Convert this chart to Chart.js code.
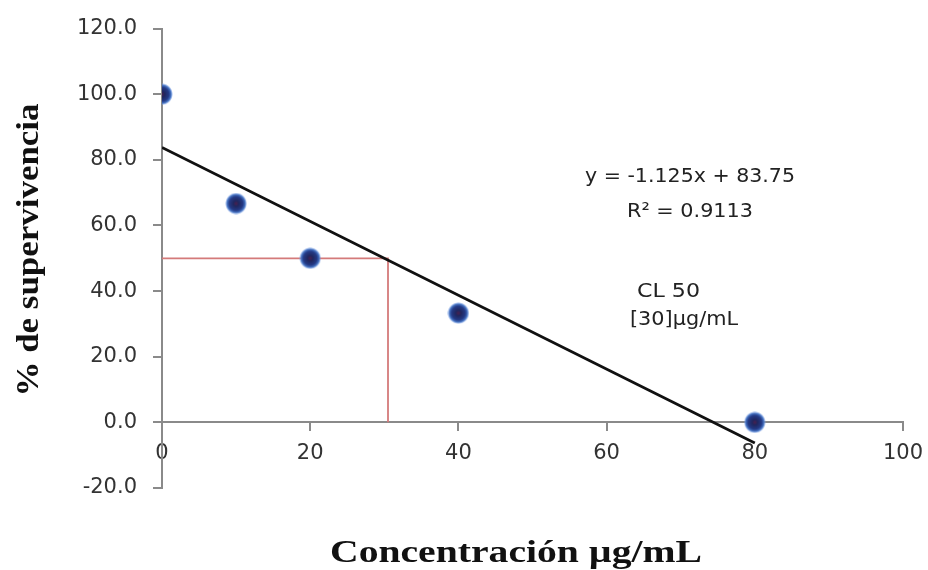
<!DOCTYPE html>
<html>
<head>
<meta charset="utf-8">
<script src="https://cdn.jsdelivr.net/npm/chart.js@4.4.1/dist/chart.umd.min.js"></script>
<style>
  body { margin: 0; background: #fff; }
  #wrap { width: 928px; height: 570px; }
</style>
</head>
<body>
<div id="wrap"><canvas id="myChart" width="928" height="570"></canvas></div>
<script>
// data
var conc = [0, 10, 20, 40, 80];
var surv = [100, 66.7, 50, 33.3, 0];
var trendX = [0, 80];
var trendY = [83.75, -6.25];
var clX = [0, 30.5, 30.5];
var clY = [50, 50, 0];
var xTicks = [0, 20, 40, 60, 80, 100];
var yTicks = [-20, 0, 20, 40, 60, 80, 100, 120];
var xTitle = 'Concentración µg/mL';
var yTitle = '% de supervivencia';
var eqText = 'y = -1.125x + 83.75';
var r2Text = 'R² = 0.9113';
var clText = ['CL 50', '[30]µg/mL'];

function pairs(xs, ys) {
    return xs.map(function(x, i) { return { x: x, y: ys[i] }; });
}

// round marker with dark centre and blue rim
var dot = document.createElement('canvas');
dot.width = 22; dot.height = 22;
var dctx = dot.getContext('2d');
var grad = dctx.createRadialGradient(11, 11, 0, 11, 11, 11);
grad.addColorStop(0, '#4a2050');
grad.addColorStop(0.25, '#20275f');
grad.addColorStop(0.62, '#243a86');
grad.addColorStop(0.82, '#4573c2');
grad.addColorStop(0.93, 'rgba(110,150,225,0.55)');
grad.addColorStop(1, 'rgba(140,175,235,0)');
dctx.fillStyle = grad;
dctx.beginPath();
dctx.arc(11, 11, 11, 0, Math.PI * 2);
dctx.fill();

function fitText(ctx, text, x, y, font, width, align, baseline, angle) {
    ctx.save();
    ctx.translate(x, y);
    if (angle) ctx.rotate(angle);
    ctx.font = font;
    var s = width / ctx.measureText(text).width;
    ctx.scale(s, 1);
    ctx.textAlign = align;
    ctx.textBaseline = baseline;
    ctx.fillText(text, 0, 0);
    ctx.restore();
}

var labels = {
    id: 'labels',
    afterDraw: function(chart) {
        var ctx = chart.ctx;
        ctx.fillStyle = '#111';
        fitText(ctx, xTitle, 516, 562, 'bold 32px "Liberation Serif"', 372, 'center', 'alphabetic');
        fitText(ctx, yTitle, 38, 250, 'bold 32px "Liberation Serif"', 293, 'center', 'alphabetic', -Math.PI / 2);
        ctx.fillStyle = '#222';
        fitText(ctx, eqText, 690, 177, '20px "DejaVu Sans"', 210, 'center', 'middle');
        fitText(ctx, r2Text, 690, 212, '20px "DejaVu Sans"', 126, 'center', 'middle');
        fitText(ctx, clText[0], 637, 292, '20px "DejaVu Sans"', 63, 'left', 'middle');
        fitText(ctx, clText[1], 630, 320, '20px "DejaVu Sans"', 108, 'left', 'middle');
    }
};

var ctx = document.getElementById('myChart').getContext('2d');
var myChart = new Chart(ctx, {
    type: 'scatter',
    data: {
        datasets: [{
            data: pairs(conc, surv),
            pointStyle: dot,
            pointRadius: 11,
            showLine: false
        }, {
            data: pairs(trendX, trendY),
            showLine: true,
            borderColor: '#111',
            borderWidth: 2.8,
            pointRadius: 0
        }, {
            data: pairs(clX, clY),
            showLine: true,
            borderColor: '#d47a7a',
            borderWidth: 1.8,
            pointRadius: 0
        }]
    },
    options: {
        responsive: false,
        animation: false,
        devicePixelRatio: 1,
        layout: { padding: { left: 62, right: 25, top: 28, bottom: 82 } },
        plugins: { legend: { display: false }, tooltip: { enabled: false } },
        scales: {
            x: {
                type: 'linear',
                position: { y: 0 },
                min: 0,
                max: 100,
                afterFit: function(scale) {
                    scale.height = 0;
                    scale.paddingLeft = 0;
                    scale.paddingRight = 0;
                },
                afterBuildTicks: function(scale) {
                    scale.ticks = xTicks.map(function(v) { return { value: v }; });
                },
                grid: { drawOnChartArea: false, drawTicks: true, tickLength: 8, color: '#8a8a8a', lineWidth: 2 },
                border: { display: true, color: '#8a8a8a', width: 2 },
                ticks: {
                    padding: 11,
                    color: '#333',
                    font: { family: 'DejaVu Sans', size: 21 },
                    maxRotation: 0
                }
            },
            y: {
                type: 'linear',
                position: 'left',
                min: -20,
                max: 120,
                afterFit: function(scale) { scale.width = 100; },
                afterBuildTicks: function(scale) {
                    scale.ticks = yTicks.map(function(v) { return { value: v }; });
                },
                grid: { drawOnChartArea: false, drawTicks: true, tickLength: 9, color: '#8a8a8a', lineWidth: 2 },
                border: { display: true, color: '#8a8a8a', width: 2 },
                ticks: {
                    padding: 16,
                    color: '#333',
                    font: { family: 'DejaVu Sans', size: 21 },
                    callback: function(value) { return value.toFixed(1); }
                }
            }
        }
    },
    plugins: [labels]
});
</script>
</body>
</html>
